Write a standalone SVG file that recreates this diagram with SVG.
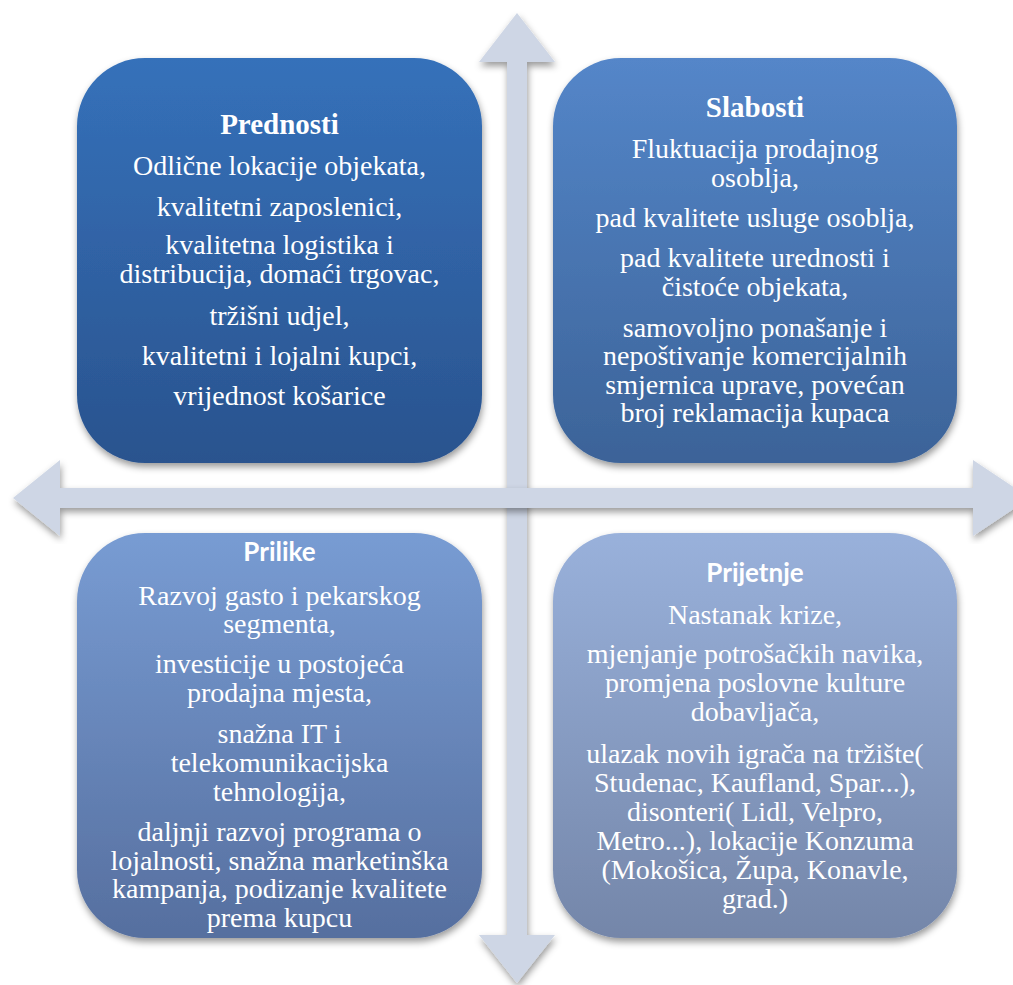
<svg xmlns="http://www.w3.org/2000/svg" width="1013" height="985" viewBox="0 0 1013 985">
<defs>
<linearGradient id="g1" x1="0" y1="0" x2="0" y2="1"><stop offset="0" stop-color="#3571BA"/><stop offset="1" stop-color="#2A538E"/></linearGradient>
<linearGradient id="g2" x1="0" y1="0" x2="0" y2="1"><stop offset="0" stop-color="#5486C9"/><stop offset="1" stop-color="#3C6398"/></linearGradient>
<linearGradient id="g3" x1="0" y1="0" x2="0" y2="1"><stop offset="0" stop-color="#789CD3"/><stop offset="1" stop-color="#566F9F"/></linearGradient>
<linearGradient id="g4" x1="0" y1="0" x2="0" y2="1"><stop offset="0" stop-color="#99B1DB"/><stop offset="1" stop-color="#7486A9"/></linearGradient>
<filter id="sh" x="-10%" y="-10%" width="120%" height="120%"><feDropShadow dx="1" dy="4" stdDeviation="3.5" flood-color="#000" flood-opacity="0.4"/></filter>
</defs>
<style>
.arr{fill:#CED6E5;filter:url(#sh)}
.box{filter:url(#sh)}
.t{font-family:"Liberation Serif","Times New Roman",serif;font-size:28px;fill:#fff;text-anchor:middle}
.ht{font-family:"Liberation Serif","Times New Roman",serif;font-size:29px;font-weight:bold;fill:#fff;text-anchor:middle}
.hs{font-family:Lato,"Open Sans",sans-serif;font-size:26px;font-weight:bold;fill:#fff;text-anchor:middle}
</style>
<g id="connectors">
<polygon class="arr" points="517,13 555,62 527,62 527,935 555,935 517,983 479,935 507,935 507,62 479,62"/>
<polygon class="arr" points="13,498 60,460 60,488 973,488 973,460 1030,498 973,536 973,508 60,508 60,536"/>
</g>
<g id="prednosti">
<rect class="box" x="77" y="58" width="405" height="405" rx="68" fill="url(#g1)"/>
<text class="ht" x="279.5" y="134">Prednosti</text>
<text class="t" x="279.5" y="175">Odlične lokacije objekata,</text>
<text class="t" x="279.5" y="216">kvalitetni zaposlenici,</text>
<text class="t" x="279.5" y="254">kvalitetna logistika i</text>
<text class="t" x="279.5" y="283">distribucija, domaći trgovac,</text>
<text class="t" x="279.5" y="325">tržišni udjel,</text>
<text class="t" x="279.5" y="365">kvalitetni i lojalni kupci,</text>
<text class="t" x="279.5" y="405">vrijednost košarice</text>
</g>
<g id="slabosti">
<rect class="box" x="553" y="58" width="404" height="405" rx="68" fill="url(#g2)"/>
<text class="ht" x="755" y="117">Slabosti</text>
<text class="t" x="755" y="158">Fluktuacija prodajnog</text>
<text class="t" x="755" y="187">osoblja,</text>
<text class="t" x="755" y="227">pad kvalitete usluge osoblja,</text>
<text class="t" x="755" y="267">pad kvalitete urednosti i</text>
<text class="t" x="755" y="296">čistoće objekata,</text>
<text class="t" x="755" y="337">samovoljno ponašanje i</text>
<text class="t" x="755" y="365">nepoštivanje komercijalnih</text>
<text class="t" x="755" y="394">smjernica uprave, povećan</text>
<text class="t" x="755" y="422">broj reklamacija kupaca</text>
</g>
<g id="prilike">
<rect class="box" x="77" y="533" width="405" height="405" rx="68" fill="url(#g3)"/>
<text class="hs" x="279.5" y="561">Prilike</text>
<text class="t" x="279.5" y="605">Razvoj gasto i pekarskog</text>
<text class="t" x="279.5" y="633">segmenta,</text>
<text class="t" x="279.5" y="673">investicije u postojeća</text>
<text class="t" x="279.5" y="702">prodajna mjesta,</text>
<text class="t" x="279.5" y="743">snažna IT i</text>
<text class="t" x="279.5" y="772">telekomunikacijska</text>
<text class="t" x="279.5" y="801">tehnologija,</text>
<text class="t" x="279.5" y="841">daljnji razvoj programa o</text>
<text class="t" x="279.5" y="870">lojalnosti, snažna marketinška</text>
<text class="t" x="279.5" y="898">kampanja, podizanje kvalitete</text>
<text class="t" x="279.5" y="927">prema kupcu</text>
</g>
<g id="prijetnje">
<rect class="box" x="553" y="533" width="404" height="405" rx="68" fill="url(#g4)"/>
<text class="hs" x="755" y="582">Prijetnje</text>
<text class="t" x="755" y="624">Nastanak krize,</text>
<text class="t" x="755" y="663">mjenjanje potrošačkih navika,</text>
<text class="t" x="755" y="692">promjena poslovne kulture</text>
<text class="t" x="755" y="721">dobavljača,</text>
<text class="t" x="755" y="763">ulazak novih igrača na tržište(</text>
<text class="t" x="755" y="792">Studenac, Kaufland, Spar...),</text>
<text class="t" x="755" y="821">disonteri( Lidl, Velpro,</text>
<text class="t" x="755" y="850">Metro...), lokacije Konzuma</text>
<text class="t" x="755" y="879">(Mokošica, Župa, Konavle,</text>
<text class="t" x="755" y="908">grad.)</text>
</g>
</svg>
